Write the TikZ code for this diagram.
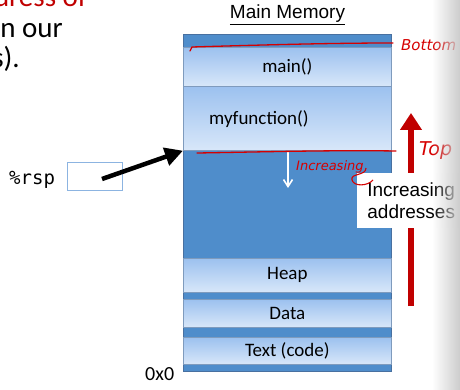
\documentclass[tikz,border=0pt]{standalone}
\usepackage{fontspec}
\setmainfont{Carlito}
\newfontfamily\arialf{Liberation Sans}
\newfontfamily\monof{DejaVu Sans Mono}
\newfontfamily\handf{DejaVu Sans}
\usetikzlibrary{arrows.meta,fadings}
\definecolor{memdark}{RGB}{79,141,203}
\definecolor{memedge}{RGB}{72,112,160}
\definecolor{boxtop}{RGB}{156,193,239}
\definecolor{boxbot}{RGB}{216,231,249}
\definecolor{annot}{RGB}{214,0,0}
\definecolor{bigred}{RGB}{192,0,0}
\definecolor{rspedge}{RGB}{140,180,225}
\tikzfading[name=fadeR, left color=transparent!100, right color=transparent!0]
\tikzset{
  seg/.style={draw=memedge!70, line width=0.7pt, top color=boxtop, bottom color=boxbot,
    minimum width=208pt, inner sep=0pt, anchor=north west,
    font=\fontsize{19}{22}\selectfont},
  slide/.style={font=\fontsize{29}{32}\selectfont, inner sep=0pt},
  hand/.style={annot, font=\handf\itshape, inner sep=0pt},
  annotline/.style={annot, line width=1.3pt, line cap=round},
}
\begin{document}
\begin{tikzpicture}[x=1pt,y=-1pt]
\useasboundingbox (0,0) rectangle (460,390);
\clip (0,0) rectangle (460,390);
% slide text fragments
\node[slide, text=bigred, anchor=base east] (t1) at (87,7) {dress of};
\node[slide, anchor=base east] (t2) at (63,38) {n our};
\node[slide, anchor=base east] (t3) at (20,68) {s).};
% title
\node[font=\arialf\fontsize{19}{22}\selectfont, inner sep=0pt, anchor=base] (title) at (287.5,19) {\underline{Main Memory}};
% memory column
\node[draw=memedge, line width=0.7pt, fill=memdark, anchor=north west, minimum width=208pt, minimum height=337pt, inner sep=0pt] (mem) at (183,34) {};
\node[seg, minimum height=39pt] (mainb) at (183,47) {main()};
\node[seg, minimum height=64pt] (myf) at (183,86) {};
\node[font=\fontsize{19}{22}\selectfont, inner sep=0pt, anchor=west] (myflabel) at (209,119) {myfunction()};
\node[seg, minimum height=34pt] (heap) at (183,258) {Heap};
\node[seg, minimum height=28pt] (data) at (183,299) {Data};
\node[seg, minimum height=27pt] (textb) at (183,337) {Text (code)};
\node[font=\fontsize{20}{22}\selectfont, inner sep=0pt, anchor=base west] (zero) at (145,380) {0x0};
% rsp
\node[font=\monof\fontsize{19}{22}\selectfont, inner sep=0pt, anchor=base west] (rsp) at (9,185) {\%rsp};
\node[draw=rspedge, fill=white, line width=0.9pt, minimum width=55pt, minimum height=28pt, inner sep=0pt] (rspbox) at (94.5,176) {};
\coordinate (astart) at (102,179);
\draw[line width=4.5pt, -{Triangle[length=18pt,width=18pt]}] (astart) -- (myf.south west);
% white arrow
\coordinate (wstart) at (288,151);
\coordinate (wend) at (288,188);
\draw[white, line width=1.6pt, -{Straight Barb[length=7pt,width=9pt]}] (wstart) -- (wend);
% red arrow
\coordinate (rbot) at (411,306);
\coordinate (rtop) at (411,113);
\draw[bigred, line width=6pt, -{Triangle[length=17pt,width=21pt]}] (rbot) -- (rtop);
% increasing addresses box
\node[fill=white, minimum width=108pt, minimum height=55pt, inner sep=0pt, align=center,
  font=\arialf\fontsize{19}{23}\selectfont, anchor=north west] (inc) at (357,173) {\raisebox{-1pt}{Increasing}\\addresses};
% handwritten annotations
\draw[annotline] (190,51) -- (192,47) .. controls (260,45) and (330,43) .. (393,43);
\draw[annotline] (197,153) .. controls (260,152) and (330,150) .. (396,151);
\node[hand, font=\handf\itshape\fontsize{15}{16}\selectfont, anchor=west] (bottomlbl) at (401,45) {Bottom};
\node[hand, font=\handf\itshape\fontsize{19}{19}\selectfont, anchor=west] (toplbl) at (419,151) {Top};
\node[hand, font=\handf\itshape\fontsize{13}{14}\selectfont, anchor=west] (inclbl) at (296,167) {Increasing};
\draw[annot, line width=1.1pt] (366,168) .. controls (366,176) and (350,173) .. (352,180) .. controls (354,187) and (368,186) .. (373,180);
% page shadow
\fill[black!20, path fading=fadeR] (432,0) rectangle (460,390);
\end{tikzpicture}
\end{document}
